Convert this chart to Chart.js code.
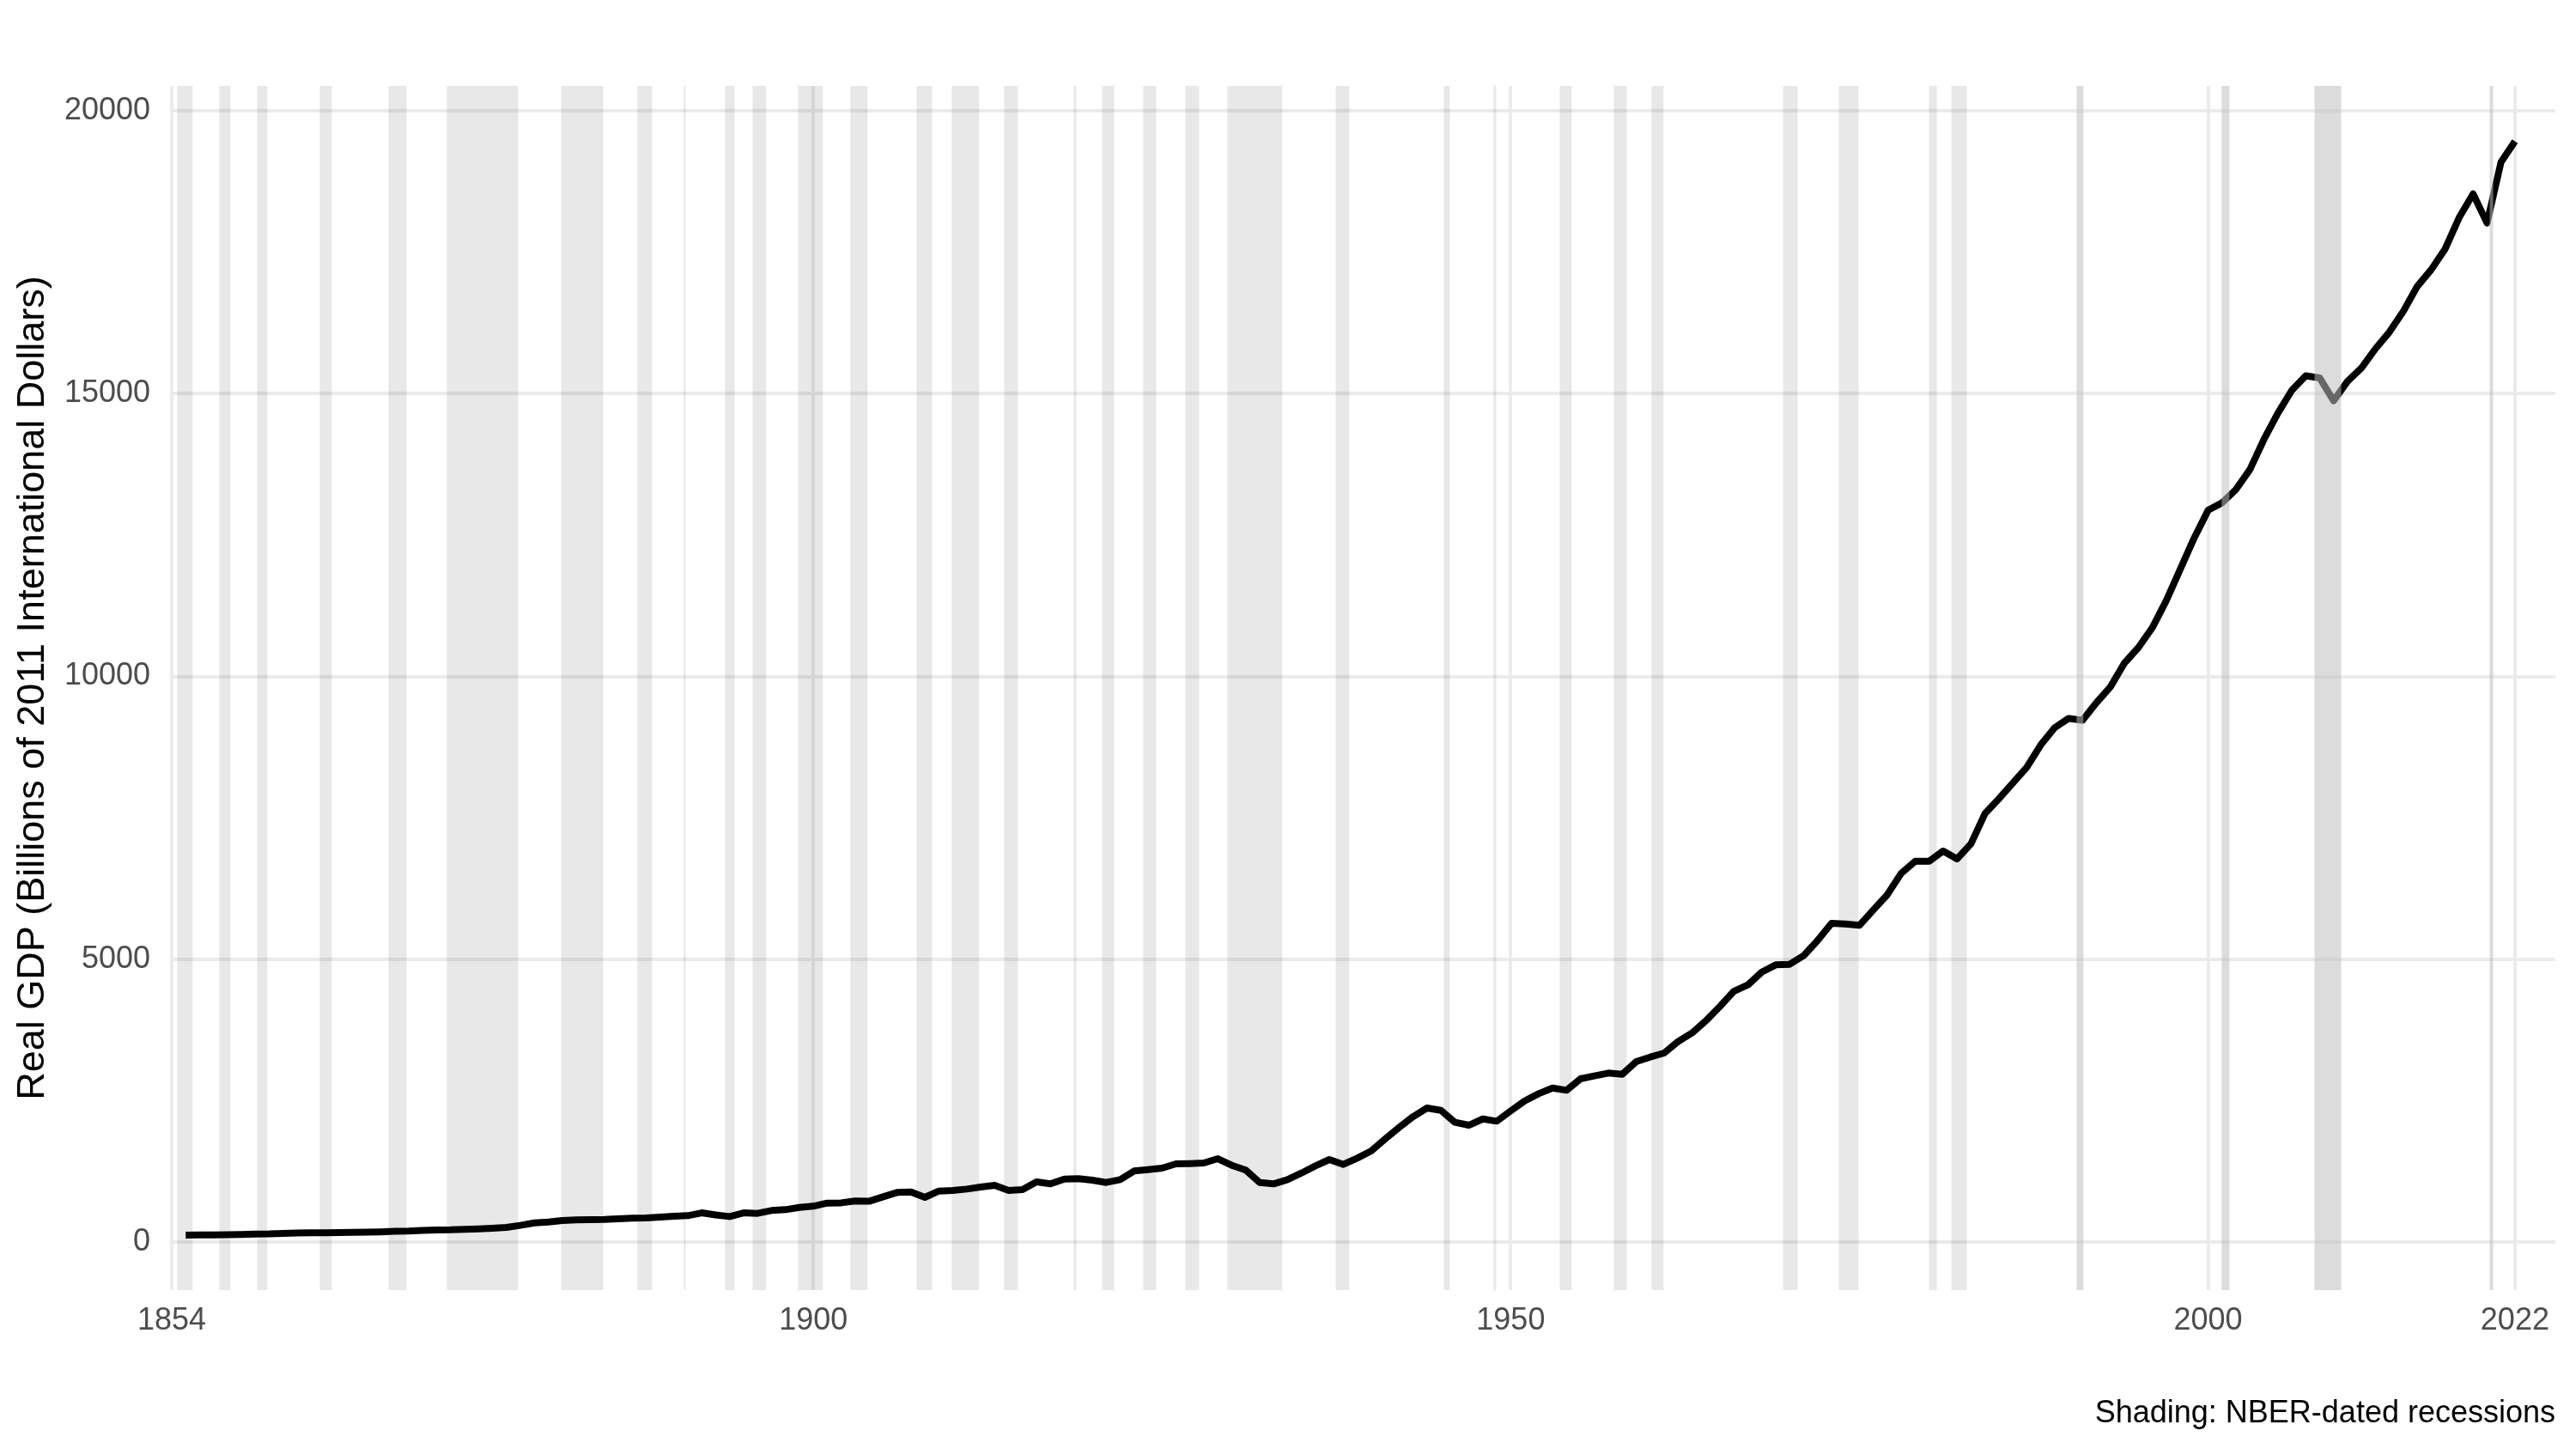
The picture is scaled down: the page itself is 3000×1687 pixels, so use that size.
<!DOCTYPE html>
<html>
<head>
<meta charset="utf-8">
<title>Real GDP</title>
<script src="https://cdn.jsdelivr.net/npm/chart.js@4.4.1/dist/chart.umd.min.js"></script>
<style>
  html, body { margin: 0; padding: 0; background: #fff; }
  canvas { display: block; }
</style>
</head>
<body>
<canvas id="gdpChart" width="3000" height="1687"></canvas>
<script>
// annual real GDP, billions of 2011 international dollars
const years = [
  1855, 1856, 1857, 1858, 1859, 1860, 1861, 1862, 1863, 1864,
  1865, 1866, 1867, 1868, 1869, 1870, 1871, 1872, 1873, 1874,
  1875, 1876, 1877, 1878, 1879, 1880, 1881, 1882, 1883, 1884,
  1885, 1886, 1887, 1888, 1889, 1890, 1891, 1892, 1893, 1894,
  1895, 1896, 1897, 1898, 1899, 1900, 1901, 1902, 1903, 1904,
  1905, 1906, 1907, 1908, 1909, 1910, 1911, 1912, 1913, 1914,
  1915, 1916, 1917, 1918, 1919, 1920, 1921, 1922, 1923, 1924,
  1925, 1926, 1927, 1928, 1929, 1930, 1931, 1932, 1933, 1934,
  1935, 1936, 1937, 1938, 1939, 1940, 1941, 1942, 1943, 1944,
  1945, 1946, 1947, 1948, 1949, 1950, 1951, 1952, 1953, 1954,
  1955, 1956, 1957, 1958, 1959, 1960, 1961, 1962, 1963, 1964,
  1965, 1966, 1967, 1968, 1969, 1970, 1971, 1972, 1973, 1974,
  1975, 1976, 1977, 1978, 1979, 1980, 1981, 1982, 1983, 1984,
  1985, 1986, 1987, 1988, 1989, 1990, 1991, 1992, 1993, 1994,
  1995, 1996, 1997, 1998, 1999, 2000, 2001, 2002, 2003, 2004,
  2005, 2006, 2007, 2008, 2009, 2010, 2011, 2012, 2013, 2014,
  2015, 2016, 2017, 2018, 2019, 2020, 2021, 2022
];

const gdp = [
  121, 124, 126, 128, 135, 142, 143, 152, 160, 162,
  163, 166, 170, 175, 180, 190, 194, 205, 214, 216,
  224, 233, 243, 258, 294, 339, 354, 380, 392, 396,
  400, 410, 422, 425, 440, 456, 466, 516, 478, 450,
  516, 506, 557, 572, 612, 633, 688, 693, 725, 720,
  800, 876, 886, 790, 901, 911, 936, 972, 1002, 911,
  926, 1063, 1028, 1114, 1119, 1093, 1053, 1104, 1256, 1281,
  1306, 1382, 1387, 1397, 1473, 1357, 1271, 1053, 1028, 1104,
  1220, 1347, 1458, 1372, 1483, 1610, 1822, 2025, 2217, 2369,
  2328, 2116, 2065, 2176, 2136, 2318, 2495, 2622, 2723, 2683,
  2885, 2936, 2987, 2966, 3189, 3270, 3341, 3543, 3695, 3913,
  4166, 4434, 4545, 4773, 4900, 4910, 5062, 5330, 5634, 5624,
  5599, 5872, 6140, 6520, 6732, 6732, 6914, 6773, 7041, 7573,
  7836, 8114, 8393, 8788, 9092, 9257, 9227, 9537, 9816, 10235,
  10508, 10861, 11339, 11892, 12445, 12937, 13069, 13306, 13658, 14188,
  14653, 15057, 15315, 15278, 14873, 15219, 15455, 15793, 16088, 16456,
  16897, 17192, 17560, 18112, 18531, 18016, 19092, 19459
];

// recession bands (fractional years)
const recessionStart = [
  1854.39, 1857.41, 1860.12, 1864.61, 1869.54, 1873.73, 1881.92, 1887.39,
  1890.71, 1893.67, 1895.64, 1898.90, 1902.66, 1907.40, 1909.92, 1913.68,
  1918.67, 1920.70, 1923.65, 1926.67, 1929.69, 1937.45, 1945.20, 1948.77,
  1953.51, 1957.39, 1960.10, 1969.52, 1973.52, 1979.99, 1981.59
];
const recessionEnd = [
  1855.50, 1858.21, 1860.86, 1865.47, 1870.83, 1878.84, 1884.94, 1888.44,
  1890.84, 1894.35, 1896.62, 1900.69, 1903.89, 1908.51, 1911.89, 1914.67,
  1918.86, 1921.56, 1924.58, 1927.66, 1933.63, 1938.43, 1945.63, 1948.96,
  1954.37, 1958.31, 1960.96, 1970.57, 1974.94, 1980.55, 1982.70
];
// later bands sit on top of the line in a darker grey
const lateRecessionStart = [1990.57, 2000.97, 2007.63, 2020.19];
const lateRecessionEnd = [1991.06, 2001.53, 2009.54, 2020.44];

const xTicks = [1854, 1900, 1950, 2000, 2022];
const yTicks = [0, 5000, 10000, 15000, 20000];

const yTitle = 'Real GDP (Billions of 2011 International Dollars)';
const caption = 'Shading: NBER-dated recessions';

const points = years.map((yr, i) => ({ x: yr, y: gdp[i] }));

const shading = {
    id: 'shading',
    afterDatasetsDraw(chart) {
        const { ctx, chartArea, scales: { x } } = chart;
        const h = chartArea.bottom - chartArea.top;
        ctx.save();
        ctx.fillStyle = 'rgba(0, 0, 0, 0.09)';
        recessionStart.forEach((s, i) => {
            const x0 = x.getPixelForValue(s);
            const x1 = x.getPixelForValue(recessionEnd[i]);
            ctx.fillRect(x0, chartArea.top, x1 - x0, h);
        });
        ctx.fillStyle = 'rgba(190, 190, 190, 0.54)';
        lateRecessionStart.forEach((s, i) => {
            const x0 = x.getPixelForValue(s);
            const x1 = x.getPixelForValue(lateRecessionEnd[i]);
            ctx.fillRect(x0, chartArea.top, x1 - x0, h);
        });
        ctx.restore();
    },
    afterDraw(chart) {
        const { ctx, chartArea } = chart;
        ctx.save();
        ctx.font = '36px "Liberation Sans", Arial, sans-serif';
        ctx.fillStyle = '#000';
        ctx.textAlign = 'right';
        ctx.textBaseline = 'alphabetic';
        ctx.fillText(caption, chartArea.right, 1656);
        ctx.restore();
    }
};

new Chart(document.getElementById('gdpChart'), {
    type: 'line',
    data: {
        datasets: [{
            data: points,
            borderColor: '#000',
            borderWidth: 8,
            borderCapStyle: 'butt',
            borderJoinStyle: 'round',
            pointRadius: 0,
            tension: 0,
            fill: false
        }]
    },
    options: {
        responsive: false,
        animation: false,
        devicePixelRatio: 1,
        layout: { padding: { left: 0, right: 24, top: 100, bottom: 105 } },
        plugins: { legend: { display: false }, tooltip: { enabled: false } },
        scales: {
            x: {
                type: 'linear',
                min: 1854,
                max: 2024.9,
                afterBuildTicks: scale => { scale.ticks = xTicks.map(v => ({ value: v })); },
                afterFit: scale => { scale.height = 80; },
                border: { display: false },
                grid: { color: '#ebebeb', lineWidth: 4, drawTicks: false },
                ticks: {
                    padding: 14,
                    color: '#4d4d4d',
                    font: { family: '"Liberation Sans", Arial, sans-serif', size: 36 },
                    maxRotation: 0,
                    callback: v => String(v)
                }
            },
            y: {
                min: -850,
                max: 20440,
                afterBuildTicks: scale => { scale.ticks = yTicks.map(v => ({ value: v })); },
                afterFit: scale => { scale.width = 200; },
                border: { display: false },
                grid: { color: '#ebebeb', lineWidth: 4, drawTicks: false },
                ticks: {
                    padding: 25,
                    color: '#4d4d4d',
                    font: { family: '"Liberation Sans", Arial, sans-serif', size: 36 },
                    callback: v => String(v)
                },
                title: {
                    display: true,
                    text: yTitle,
                    color: '#000',
                    padding: { top: 12 },
                    font: { family: '"Liberation Sans", Arial, sans-serif', size: 45 }
                }
            }
        }
    },
    plugins: [shading]
});
</script>
</body>
</html>
